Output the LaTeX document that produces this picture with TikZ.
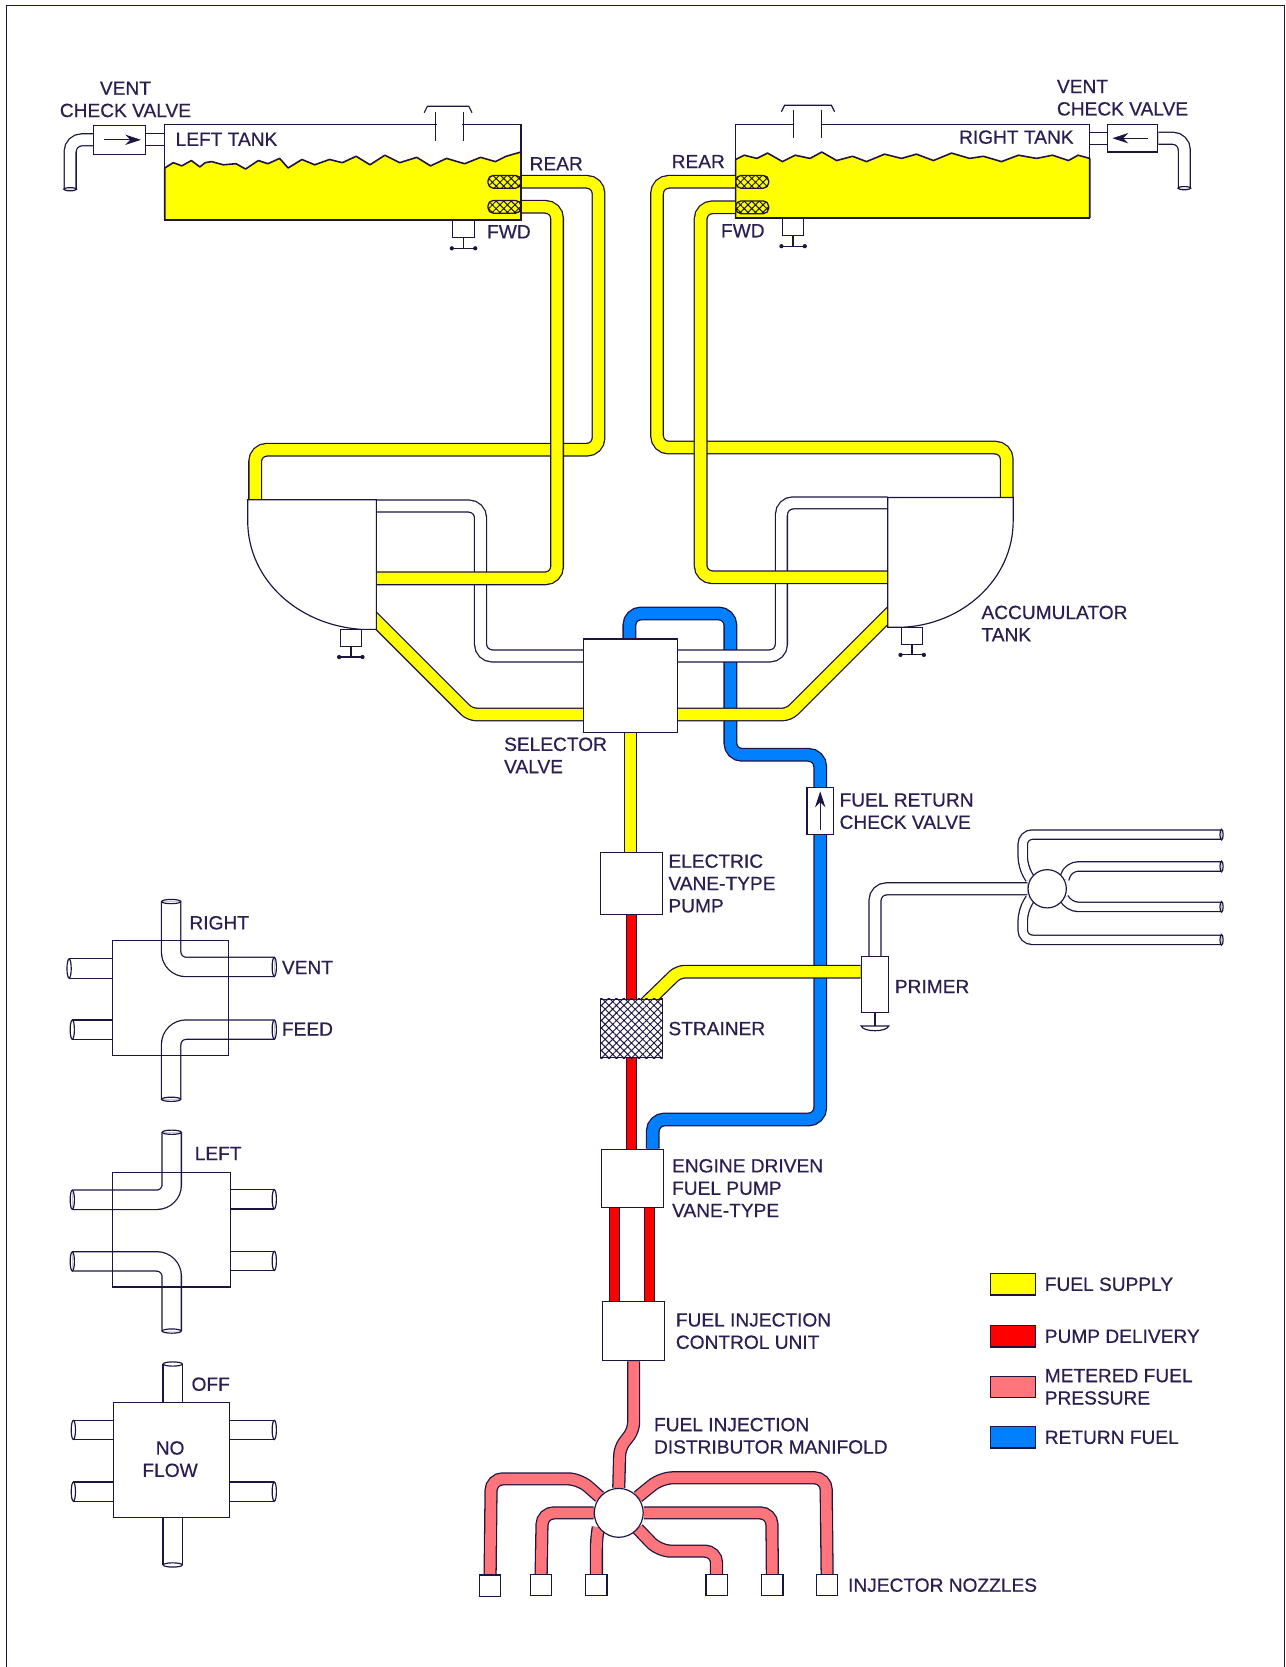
\documentclass[tikz,border=0pt]{standalone}
\usepackage{fontspec}
\setmainfont{Liberation Sans}
\newfontfamily\labelfont[FakeBold=0.5]{Liberation Sans}
\usetikzlibrary{arrows.meta,positioning,backgrounds,patterns.meta}
\definecolor{inkline}{HTML}{1E1440}
\definecolor{labelink}{HTML}{2A1E50}
\definecolor{fuelyellow}{HTML}{FFFF00}
\definecolor{pumpred}{HTML}{FF0000}
\definecolor{meterpink}{HTML}{FF757C}
\definecolor{returnblue}{HTML}{0080FF}

\begin{document}
\begin{tikzpicture}[
  x=1pt,y=-1pt,
  >={Stealth[length=5.2mm,width=3.4mm]},
  device/.style={draw=inkline,fill=white,line width=1.1pt,inner sep=0pt},
  tankbox/.style={draw=inkline,line width=1.1pt,inner sep=0pt},
  viewbox/.style={draw=inkline,line width=1.1pt,inner sep=0pt,minimum width=109pt,minimum height=108pt},
  nozzle/.style={device,minimum width=20pt,minimum height=20pt},
  swatch/.style={draw=inkline,line width=1.1pt,minimum width=42pt,minimum height=20pt,inner sep=0pt},
  screen/.style={draw=inkline,line width=1.2pt,inner sep=0pt,minimum width=31pt,minimum height=12pt,rounded corners=5pt,pattern={Hatch[angle=45,distance=5pt,line width=.9pt]},pattern color=inkline},
  note/.style={font=\labelfont\fontsize{18}{21}\selectfont,text=labelink,align=left,inner sep=0pt},
  pipe/.style={draw=inkline,line width=1.2pt,double distance=10.6pt,rounded corners=11pt},
  supply/.style={pipe,double=fuelyellow},
  delivery/.style={pipe,double=pumpred,double distance=8.6pt},
  metered/.style={pipe,double=meterpink,double distance=10pt},
  returnline/.style={pipe,double=returnblue},
  vent/.style={pipe,double=white,double distance=10pt},
  thinvent/.style={pipe,double=white,double distance=7.6pt,rounded corners=9pt},
  viewpipe/.style={pipe,double=white,double distance=17pt,rounded corners=14pt},
  line/.style={draw=inkline,line width=1.1pt},
  liquid/.style={draw=inkline,line width=1.5pt,fill=fuelyellow,line join=round},
  check/.style={draw=inkline,line width=.7pt,->},
  draincock/.pic={
    \draw[device] (-10,0) rectangle (10,16);
    \draw[line width=1.8pt,inkline] (0,16) -- (0,26);
    \draw[line width=1.1pt,inkline] (-11,26) -- (11,26);
    \fill[inkline] (-11,26) circle (2pt) (11,26) circle (2pt);
  },
]
\useasboundingbox (0,0) rectangle (1209,1568);
\draw[line width=1.2pt,inkline] (6,1568) -- (6,5) -- (1208,5) -- (1208,1568);

% tanks
\node[tankbox,minimum width=335pt,minimum height=90pt] (ltank) at (322.5,162) {};
\node[tankbox,minimum width=333pt,minimum height=88pt] (rtank) at (858.5,161) {};
\node[screen] (lrear) at (474.5,171) {};
\node[screen] (lfwd) at (474.5,194.5) {};
\node[screen] (rrear) at (707.5,171) {};
\node[screen] (rfwd) at (707.5,195) {};
\draw[white,line width=2.4pt] (411,117) -- (435,117);
\draw[white,line width=2.4pt] (747,117) -- (772,117);
\draw[line] (399,106) -- (402,100) -- (441,100) -- (444,106);
\draw[line] (410,105) -- (410,133) (436,105) -- (436,133);
\draw[line] (735,105) -- (738,99) -- (782,99) -- (785,105);
\draw[line] (746,103) -- (746,130) (773,103) -- (773,130);
\pic at (436,0 |- ltank.south) {draincock};
\pic at (746,0 |- rtank.south) {draincock};

% vent check valves
\node[device,minimum width=49pt,minimum height=27pt] (lvent) at (112.5,131.5) {};
\node[device,minimum width=47pt,minimum height=26pt] (rvent) at (1065.5,130) {};
\draw[check] ([xshift=10pt]lvent.west) -- ([xshift=-5pt]lvent.east);
\draw[check] ([xshift=-10pt]rvent.east) -- ([xshift=5pt]rvent.west);
\coordinate (lventend) at (66,178);
\coordinate (rventend) at (1114,177);

% accumulators
\draw[device] (233,470) -- (354,470) -- (354,592) -- (340,592) .. controls (280,588) and (233,545) .. (233,490) -- cycle;
\draw[device] (835,468) -- (953,468) -- (953,490) .. controls (953,545) and (905,588) .. (848,590) -- (835,590) -- cycle;
\coordinate (laccfeed) at (240,470);
\coordinate (raccfeed) at (947,468);
\coordinate (laccvent) at (354,476);
\coordinate (raccvent) at (835,473);
\coordinate (laccfwd) at (354,544);
\coordinate (raccfwd) at (835,543);
\coordinate (laccout) at (340,570);
\coordinate (raccout) at (850,564);
\pic at (330,592) {draincock};
\pic at (858,590) {draincock};

% fuel line parts
\node[device,minimum width=88pt,minimum height=88pt] (selector) at (593,645) {};
\node[device,minimum width=25pt,minimum height=44pt] (retvalve) at (771.5,763) {};
\draw[check] ([yshift=5pt]retvalve.south) -- ([yshift=-4pt]retvalve.north);
\node[device,minimum width=58pt,minimum height=58pt] (epump) at (594,831) {};
\node[device,minimum width=58pt,minimum height=55pt] (strainer) at (594,967.5) {};
\path[pattern={Hatch[angle=45,distance=5pt,line width=.9pt]},pattern color=inkline] (strainer.south west) rectangle (strainer.north east);
\node[device,minimum width=58pt,minimum height=55pt] (engine) at (595,1108.5) {};
\node[device,minimum width=58pt,minimum height=56pt] (injctl) at (596,1252) {};
\node[device,minimum width=26pt,minimum height=52pt] (primer) at (823,926) {};
\draw[line width=1.8pt,inkline] (primer.south) -- (823,965);
\draw[line] (810,965) -- (836,965) .. controls (834,971) and (812,971) .. cycle;
\node[device,circle,minimum size=36pt] (dist) at (985,836) {};
\node[device,circle,minimum size=46pt] (manifold) at (582,1423) {};
\node[nozzle] (noz1) at (461,1491.5) {};
\node[nozzle] (noz2) at (509,1491) {};
\node[nozzle] (noz3) at (561,1491) {};
\node[nozzle] (noz4) at (674,1491) {};
\node[nozzle] (noz5) at (726.5,1491) {};
\node[nozzle] (noz6) at (778,1491) {};

% selector views
\node[viewbox] (rightview) at (160.5,939) {};
\node[viewbox,minimum width=111pt] (leftview) at (161.5,1156.5) {};
\node[viewbox] (offview) at (161.5,1373) {};

% legend
\node[swatch,fill=fuelyellow] (keysupply) at (953,1208) {};
\node[swatch,fill=pumpred] (keydelivery) at (953,1257) {};
\node[swatch,fill=meterpink] (keymetered) at (953,1304.5) {};
\node[swatch,fill=returnblue] (keyreturn) at (953,1352) {};

\begin{scope}[on background layer]
\draw[liquid] (155,207) -- (155,158) -- (163,153) -- (171,156) -- (180,151) -- (188,157) -- (193,153) -- (199,152) -- (210,155) -- (222,154) -- (231,159) -- (243,151) -- (252,154) -- (263,149) -- (271,158) -- (284,150) -- (296,155) -- (310,150) -- (322,153) -- (335,147) -- (348,155) -- (362,146) -- (376,153) -- (392,148) -- (405,156) -- (420,149) -- (437,154) -- (452,148) -- (466,152) -- (476,147) -- (490,143) -- (490,207) -- cycle;
\draw[liquid] (692,205) -- (692,150) -- (700,146) -- (712,149) -- (722,144) -- (736,152) -- (748,146) -- (762,149) -- (773,143) -- (787,151) -- (802,147) -- (815,152) -- (832,145) -- (848,149) -- (862,145) -- (878,151) -- (895,144) -- (912,149) -- (925,147) -- (942,152) -- (958,146) -- (975,149) -- (990,146) -- (1005,151) -- (1014,146) -- (1025,149) -- (1025,205) -- cycle;

% return fuel
\draw[returnline] (selector.north -| 592,0) -- (592,577) -- (687,577) -- (687,710) -- (771.5,710) -- (retvalve.north);
\draw[returnline] (retvalve.south) -- (771.5,1053) -- (614,1053) -- (engine.north -| 614,0);

% vent lines
\draw[vent] (lvent.east) -- (lvent.east -| ltank.west);
\draw[vent] (rvent.west) -- (rvent.west -| rtank.east);
\draw[vent] (lvent.west) -- (66,131.5) -- (lventend);
\draw[vent] (rvent.east) -- (1114,130) -- (rventend);
\draw[vent] (laccvent) -- (452,476) -- (452,617) -- (selector.west |- 0,617);
\draw[vent] (raccvent) -- (735,473) -- (735,617) -- (selector.east |- 0,617);

% fuel supply
\draw[supply] (lrear.east) -- (563,171) -- (563,423) -- (240,423) -- (laccfeed);
\draw[supply] (lfwd.east) -- (524,194.5) -- (524,544) -- (laccfwd);
\draw[supply] (rrear.west) -- (618,171) -- (618,421) -- (947,421) -- (raccfeed);
\draw[supply] (rfwd.west) -- (659,195) -- (659,543) -- (raccfwd);
\draw[supply,rounded corners=6pt] (laccout) -- (442,672) -- (selector.west |- 0,672);
\draw[supply,rounded corners=6pt] (raccout) -- (742,672) -- (selector.east |- 0,672);
\draw[supply] (selector.south) -- (selector.south |- epump.north);
\draw[supply,rounded corners=6pt] (603,948) -- (638,914) -- (638,914 -| primer.west);

% pump delivery
\draw[delivery] (epump.south) -- (strainer.north);
\draw[delivery] (strainer.south) -- (strainer.south |- engine.north);
\draw[delivery] (578,0 |- engine.south) -- (578,0 |- injctl.north);
\draw[delivery] (611,0 |- engine.south) -- (611,0 |- injctl.north);

% metered fuel
\draw[metered,rounded corners=7pt] (injctl.south) -- (596,1345) -- (583,1362) -- (manifold.north);
\draw[metered] (noz1.north) -- (462,1391) -- (545,1391) -- (manifold.140);
\draw[metered] (noz2.north) -- (510,1423) -- (manifold.west);
\draw[metered,rounded corners=6pt] (noz3.north) -- (561,1450) -- (manifold.215);
\draw[metered] (noz4.north) -- (674,1459) -- (620,1459) -- (manifold.-40);
\draw[metered] (noz5.north) -- (726,1423) -- (manifold.east);
\draw[metered] (noz6.north) -- (777,1390) -- (622,1390) -- (manifold.40);

% primer lines
\draw[vent] (primer.north) -- (823,836) -- (dist.west);
\coordinate (prime1) at (1149,785);
\coordinate (prime2) at (1149,815);
\coordinate (prime3) at (1149,853);
\coordinate (prime4) at (1149,884);
\draw[thinvent] (prime1) -- (962,785) -- (962,815) -- (dist.150);
\draw[thinvent] (prime2) -- (1005,815) -- (dist.30);
\draw[thinvent] (prime3) -- (1005,853) -- (dist.-30);
\draw[thinvent] (prime4) -- (962,884) -- (962,857) -- (dist.-150);

% selector views, pipes
\draw[viewpipe] (161,848) -- (161,909.5) -- (258,909.5);
\draw[viewpipe] (161,1034) -- (161,968.5) -- (258,968.5);
\draw[viewpipe] (161.5,1065) -- (161.5,1128.5) -- (68,1128.5);
\draw[viewpipe] (161.5,1252) -- (161.5,1186.5) -- (68,1186.5);
\foreach \x/\y in {65/911,68/968.5} \draw[viewpipe] (\x,\y) -- (\x,\y -| rightview.west);
\foreach \x/\y in {258/1128,258/1186} \draw[viewpipe] (\x,\y) -- (\x,\y -| leftview.east);
\foreach \x/\y in {69/1345,69/1403} \draw[viewpipe] (\x,\y) -- (\x,\y -| offview.west);
\foreach \x/\y in {258/1345,258/1403} \draw[viewpipe] (\x,\y) -- (\x,\y -| offview.east);
\draw[viewpipe] (162.5,1283) -- (162.5,0 |- offview.north);
\draw[viewpipe] (162.5,1472) -- (162.5,0 |- offview.south);
\end{scope}

% pipe ends
\foreach \x/\y in {65/911,68/968.5,258/909.5,258/968.5,68/1128.5,68/1186.5,258/1128,258/1186,69/1345,69/1403,258/1345,258/1403}
  \draw[line] (\x,\y) ellipse (2pt and 9pt);
\foreach \x/\y in {161/848,161/1034,161.5/1065,161.5/1252,162.5/1283,162.5/1472}
  \draw[line] (\x,\y) ellipse (9pt and 2pt);
\foreach \x/\y in {1149/785,1149/815,1149/853,1149/884}
  \draw[line] (\x,\y) ellipse (1.5pt and 5pt);
\draw[line] (lventend) ellipse (6pt and 1.5pt);
\draw[line] (rventend) ellipse (6pt and 1.5pt);

% labels
\node[note,align=center] (lventlabel) at (118,93.5) {VENT\\CHECK VALVE};
\node[note,anchor=west] (lefttank) at (165,131) {LEFT TANK};
\node[note,anchor=west] (lrearlabel) at (498,154) {REAR};
\node[note,anchor=west] (lfwdlabel) at (458,218) {FWD};
\node[note,anchor=west] (rventlabel) at (994,92) {VENT\\CHECK VALVE};
\node[note,anchor=east] (righttank) at (1010,129) {RIGHT TANK};
\node[note,anchor=east] (rrearlabel) at (682,152) {REAR};
\node[note,anchor=west] (rfwdlabel) at (678,217) {FWD};
\node[note,anchor=west] (acclabel) at (923,586.5) {ACCUMULATOR\\TANK};
\node[note,anchor=west] (sellabel) at (474,710.5) {SELECTOR\\VALVE};
\node[note,right=5pt of retvalve] (retlabel) {FUEL RETURN\\CHECK VALVE};
\node[note,right=5pt of epump] (pumplabel) {ELECTRIC\\VANE-TYPE\\PUMP};
\node[note,right=5pt of strainer] (strlabel) {STRAINER};
\node[note,right=5pt of primer,yshift=-2pt] (primlabel) {PRIMER};
\node[note,anchor=west] (englabel) at (632,1117.5) {ENGINE DRIVEN\\FUEL PUMP\\VANE-TYPE};
\node[note,right=10pt of injctl] (ctllabel) {FUEL INJECTION\\CONTROL UNIT};
\node[note,anchor=west] (manlabel) at (615,1350.5) {FUEL INJECTION\\DISTRIBUTOR MANIFOLD};
\node[note,right=9pt of noz6] (nozlabel) {INJECTOR NOZZLES};
\node[note,anchor=west] (rightlabel) at (178,868) {RIGHT};
\node[note,anchor=west] (ventlabel) at (265,910) {VENT};
\node[note,anchor=west] (feedlabel) at (265,968) {FEED};
\node[note,anchor=west] (leftlabel) at (183,1085) {LEFT};
\node[note,anchor=west] (offlabel) at (180,1302) {OFF};
\node[note,align=center] (noflow) at (160,1372.5) {NO\\FLOW};
\node[note,right=8pt of keysupply] (supplylabel) {FUEL SUPPLY};
\node[note,right=8pt of keydelivery] (deliverylabel) {PUMP DELIVERY};
\node[note,right=8pt of keymetered] (meteredlabel) {METERED FUEL\\PRESSURE};
\node[note,right=8pt of keyreturn] (returnlabel) {RETURN FUEL};
\end{tikzpicture}
\end{document}
